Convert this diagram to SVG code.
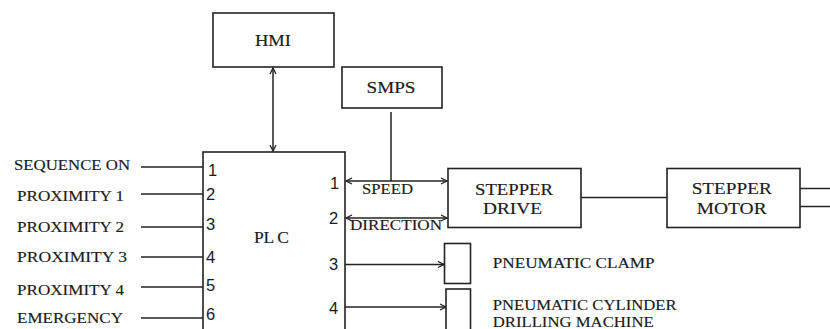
<svg xmlns="http://www.w3.org/2000/svg" width="830" height="329" viewBox="0 0 830 329">
<style>
.box{fill:#fff;stroke:#222;stroke-width:1.6}
.ln{fill:none;stroke:#222;stroke-width:1.5}
.t{font-family:"Liberation Serif","Times New Roman",serif;fill:#1a1a1a;stroke:#1a1a1a;stroke-width:0.15}
.n{font-family:"Liberation Sans",Arial,sans-serif;fill:#1a1a1a;font-size:16.5px}
</style>
<defs>
<marker id="ah" markerUnits="userSpaceOnUse" markerWidth="10" markerHeight="10" refX="7" refY="4" orient="auto-start-reverse">
<path d="M1,1 L7,4 L1,7" fill="none" stroke="#222" stroke-width="1.3"/>
</marker>
</defs>
<rect width="830" height="329" fill="#fff"/>
<g id="connectors">
<line class="ln" x1="273" y1="68" x2="273" y2="151" marker-start="url(#ah)" marker-end="url(#ah)"/>
<line class="ln" x1="391" y1="112" x2="391" y2="181"/>
<line class="ln" x1="141" y1="167" x2="203" y2="167"/>
<line class="ln" x1="141" y1="194" x2="203" y2="194"/>
<line class="ln" x1="141" y1="227" x2="203" y2="227"/>
<line class="ln" x1="141" y1="257" x2="203" y2="257"/>
<line class="ln" x1="141" y1="287" x2="203" y2="287"/>
<line class="ln" x1="141" y1="318" x2="203" y2="318"/>
<line class="ln" x1="346" y1="181" x2="447" y2="181" marker-start="url(#ah)" marker-end="url(#ah)"/>
<line class="ln" x1="346" y1="218" x2="447" y2="218" stroke-width="2" marker-start="url(#ah)" marker-end="url(#ah)"/>
<line class="ln" x1="345" y1="264.5" x2="444" y2="264.5" marker-end="url(#ah)"/>
<line class="ln" x1="345" y1="307" x2="446" y2="307" marker-end="url(#ah)"/>
<line class="ln" x1="581" y1="197.5" x2="667" y2="197.5"/>
<line class="ln" x1="800" y1="188.5" x2="830" y2="188.5"/>
<line class="ln" x1="800" y1="206.5" x2="830" y2="206.5"/>
</g>
<g id="hmi">
<rect class="box" x="213" y="13" width="121" height="54"/>
<text class="t" x="273" y="46" font-size="16.5" text-anchor="middle" textLength="36" lengthAdjust="spacingAndGlyphs">HMI</text>
</g>
<g id="smps">
<rect class="box" x="342" y="67" width="100" height="41"/>
<text class="t" x="391" y="93" font-size="16.5" text-anchor="middle" textLength="49" lengthAdjust="spacingAndGlyphs">SMPS</text>
</g>
<g id="plc">
<rect class="box" x="203" y="152" width="142" height="200"/>
<text class="t" x="254" y="243" font-size="17.5" textLength="35" lengthAdjust="spacing">PL C</text>
<text class="n" x="208" y="176">1</text>
<text class="n" x="206" y="200">2</text>
<text class="n" x="206" y="230">3</text>
<text class="n" x="206" y="262.5">4</text>
<text class="n" x="206" y="290.5">5</text>
<text class="n" x="206" y="320">6</text>
<text class="n" x="330" y="188.5">1</text>
<text class="n" x="329" y="224">2</text>
<text class="n" x="329" y="270">3</text>
<text class="n" x="329" y="314">4</text>
</g>
<g id="inputs">
<text class="t" x="14" y="170" font-size="15" textLength="116" lengthAdjust="spacingAndGlyphs">SEQUENCE ON</text>
<text class="t" x="17" y="201" font-size="15" textLength="107" lengthAdjust="spacingAndGlyphs">PROXIMITY 1</text>
<text class="t" x="17" y="232" font-size="15" textLength="107" lengthAdjust="spacingAndGlyphs">PROXIMITY 2</text>
<text class="t" x="17" y="262" font-size="15" textLength="110" lengthAdjust="spacingAndGlyphs">PROXIMITY 3</text>
<text class="t" x="17" y="295" font-size="15" textLength="107" lengthAdjust="spacingAndGlyphs">PROXIMITY 4</text>
<text class="t" x="17" y="323" font-size="15" textLength="106" lengthAdjust="spacingAndGlyphs">EMERGENCY</text>
</g>
<g id="signals">
<text class="t" x="362" y="194" font-size="15" textLength="51" lengthAdjust="spacingAndGlyphs">SPEED</text>
<text class="t" x="350" y="230" font-size="15" textLength="92" lengthAdjust="spacingAndGlyphs">DIRECTION</text>
</g>
<g id="stepper-drive">
<rect class="box" x="448" y="168.5" width="133" height="59"/>
<text class="t" x="514" y="195" font-size="17" text-anchor="middle" textLength="78" lengthAdjust="spacingAndGlyphs">STEPPER</text>
<text class="t" x="512.5" y="213.5" font-size="17" text-anchor="middle" textLength="59" lengthAdjust="spacingAndGlyphs">DRIVE</text>
</g>
<g id="stepper-motor">
<rect class="box" x="667" y="168.5" width="133" height="59"/>
<text class="t" x="731.7" y="193.5" font-size="17" text-anchor="middle" textLength="80" lengthAdjust="spacingAndGlyphs">STEPPER</text>
<text class="t" x="731.7" y="213.5" font-size="17" text-anchor="middle" textLength="70" lengthAdjust="spacingAndGlyphs">MOTOR</text>
</g>
<g id="pneumatic-clamp">
<rect class="box" x="444.5" y="243.5" width="26" height="40"/>
<text class="t" x="492.7" y="268" font-size="15" textLength="162" lengthAdjust="spacingAndGlyphs">PNEUMATIC CLAMP</text>
</g>
<g id="pneumatic-cylinder">
<rect class="box" x="446" y="289" width="24.5" height="60"/>
<text class="t" x="492.7" y="310" font-size="15" textLength="184" lengthAdjust="spacingAndGlyphs">PNEUMATIC CYLINDER</text>
<text class="t" x="492.7" y="327" font-size="15" textLength="161" lengthAdjust="spacingAndGlyphs">DRILLING MACHINE</text>
</g>
</svg>
